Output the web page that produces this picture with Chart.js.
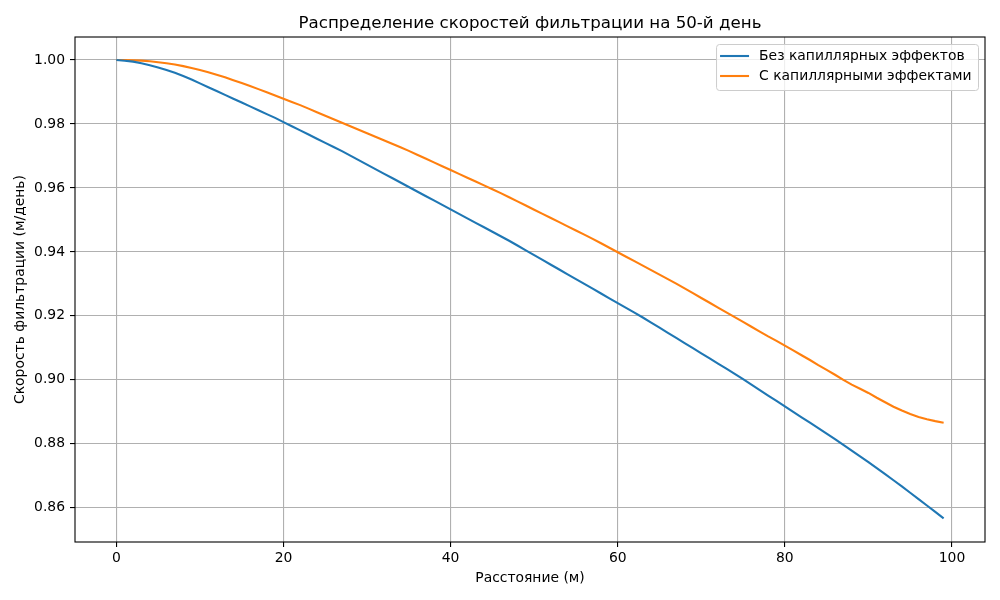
<!DOCTYPE html>
<html>
<head>
<meta charset="utf-8">
<script src="https://cdn.jsdelivr.net/npm/chart.js@4.4.1/dist/chart.umd.min.js"></script>
<style>
  html, body { margin: 0; padding: 0; background: #ffffff; }
  #wrap { width: 1000px; height: 600px; position: relative; }
</style>
</head>
<body>
<div id="wrap"><canvas id="c"></canvas></div>
<script>
const chartTitle = 'Распределение скоростей фильтрации на 50-й день';
const xAxisTitle = 'Расстояние (м)';
const yAxisTitle = 'Скорость фильтрации (м/день)';
const seriesLabels = ['Без капиллярных эффектов', 'С капиллярными эффектами'];
const seriesColors = ['#1f77b4', '#ff7f0e'];

const distance = [
  0,1,2,3,4,5,6,7,8,9,
  10,11,12,13,14,15,16,17,18,19,
  20,21,22,23,24,25,26,27,28,29,
  30,31,32,33,34,35,36,37,38,39,
  40,41,42,43,44,45,46,47,48,49,
  50,51,52,53,54,55,56,57,58,59,
  60,61,62,63,64,65,66,67,68,69,
  70,71,72,73,74,75,76,77,78,79,
  80,81,82,83,84,85,86,87,88,89,
  90,91,92,93,94,95,96,97,98,99
];

const velocityNoCap = [
  1.0000,0.9998,0.9995,0.9990,0.9984,0.9977,0.9969,0.9960,0.9950,0.9939,
  0.9927,0.9915,0.9903,0.9891,0.9879,0.9867,0.9855,0.9843,0.9831,0.9819,
  0.9806,0.9793,0.9780,0.9767,0.9754,0.9741,0.9728,0.9715,0.9701,0.9687,
  0.9673,0.9659,0.9645,0.9631,0.9617,0.9603,0.9589,0.9575,0.9561,0.9547,
  0.9533,0.9519,0.9505,0.9491,0.9477,0.9463,0.9449,0.9435,0.9420,0.9405,
  0.9390,0.9375,0.9360,0.9345,0.9330,0.9315,0.9300,0.9285,0.9270,0.9255,
  0.9240,0.9225,0.9210,0.9195,0.9179,0.9163,0.9147,0.9131,0.9115,0.9099,
  0.9083,0.9067,0.9051,0.9035,0.9019,0.9002,0.8985,0.8968,0.8951,0.8934,
  0.8917,0.8900,0.8883,0.8866,0.8849,0.8832,0.8815,0.8797,0.8779,0.8761,
  0.8743,0.8724,0.8705,0.8686,0.8667,0.8647,0.8627,0.8607,0.8587,0.8567
];

const velocityWithCap = [
  1.0000,1.0000,0.9999,0.9998,0.9996,0.9993,0.9990,0.9986,0.9981,0.9975,
  0.9969,0.9962,0.9954,0.9946,0.9937,0.9928,0.9919,0.9909,0.9899,0.9889,
  0.9879,0.9869,0.9859,0.9848,0.9837,0.9826,0.9815,0.9804,0.9793,0.9782,
  0.9771,0.9760,0.9749,0.9738,0.9727,0.9716,0.9704,0.9692,0.9680,0.9668,
  0.9656,0.9644,0.9632,0.9620,0.9608,0.9596,0.9584,0.9571,0.9558,0.9545,
  0.9532,0.9519,0.9506,0.9493,0.9480,0.9467,0.9454,0.9441,0.9427,0.9413,
  0.9399,0.9385,0.9371,0.9357,0.9343,0.9329,0.9315,0.9301,0.9286,0.9271,
  0.9256,0.9241,0.9226,0.9211,0.9196,0.9181,0.9166,0.9151,0.9136,0.9122,
  0.9107,0.9092,0.9077,0.9062,0.9046,0.9031,0.9016,0.9000,0.8985,0.8972,
  0.8959,0.8944,0.8930,0.8916,0.8904,0.8893,0.8884,0.8877,0.8871,0.8866
];

const xTicks = [0, 20, 40, 60, 80, 100];
const yTicks = [0.86, 0.88, 0.90, 0.92, 0.94, 0.96, 0.98, 1.00];

const FONT = "'DejaVu Sans', sans-serif";

function toPoints(xs, ys) { return xs.map((x, i) => ({ x: x, y: ys[i] })); }

const frameLegendPlugin = {
  id: 'frameLegend',
  afterDraw(chart) {
    const ctx = chart.ctx;
    const a = chart.chartArea;
    ctx.save();
    ctx.strokeStyle = '#000000';
    ctx.lineWidth = 1.1;
    ctx.strokeRect(a.left, a.top, a.right - a.left, a.bottom - a.top);
    ctx.font = '13.9px ' + FONT;
    const ds = chart.data.datasets;
    let maxW = 0;
    ds.forEach(d => { maxW = Math.max(maxW, ctx.measureText(d.label).width); });
    const boxW = 43 + maxW + 6.5;
    const boxH = 46;
    const right = a.right - 7;
    const top = a.top + 7;
    const left = right - boxW;
    ctx.beginPath();
    if (ctx.roundRect) ctx.roundRect(left + 0.5, top + 0.5, boxW, boxH, 3);
    else ctx.rect(left + 0.5, top + 0.5, boxW, boxH);
    ctx.fillStyle = 'rgba(255,255,255,0.8)';
    ctx.fill();
    ctx.strokeStyle = '#cccccc';
    ctx.lineWidth = 1;
    ctx.stroke();
    ds.forEach((d, i) => {
      const yy = top + 12 + i * 20;
      ctx.beginPath();
      ctx.strokeStyle = d.borderColor;
      ctx.lineWidth = 2.1;
      ctx.moveTo(left + 4, yy);
      ctx.lineTo(left + 33, yy);
      ctx.stroke();
      ctx.fillStyle = '#000000';
      ctx.textBaseline = 'middle';
      ctx.textAlign = 'left';
      ctx.fillText(d.label, left + 43, yy);
    });
    ctx.restore();
  }
};

new Chart(document.getElementById('c'), {
  type: 'line',
  data: {
    datasets: [
      {
        label: seriesLabels[0],
        data: toPoints(distance, velocityNoCap),
        borderColor: seriesColors[0],
        backgroundColor: seriesColors[0],
        borderWidth: 2.1,
        pointRadius: 0,
        tension: 0,
        fill: false
      },
      {
        label: seriesLabels[1],
        data: toPoints(distance, velocityWithCap),
        borderColor: seriesColors[1],
        backgroundColor: seriesColors[1],
        borderWidth: 2.1,
        pointRadius: 0,
        tension: 0,
        fill: false
      }
    ]
  },
  options: {
    responsive: true,
    maintainAspectRatio: false,
    animation: false,
    devicePixelRatio: 1,
    layout: { padding: { top: 0, right: 15, bottom: 0, left: 0 } },
    plugins: {
      legend: { display: false },
      tooltip: { enabled: false },
      title: {
        display: true,
        text: chartTitle,
        fullSize: false,
        color: '#000000',
        font: { family: FONT, size: 16.67, weight: 'normal', lineHeight: 1.2 },
        padding: { top: 14, bottom: 3 }
      }
    },
    scales: {
      x: {
        type: 'linear',
        min: -4.95,
        max: 103.95,
        afterBuildTicks: (scale) => { scale.ticks = xTicks.map(v => ({ value: v })); },
        afterFit: (scale) => { scale.height = 58; },
        grid: {
          display: true,
          color: '#b0b0b0',
          lineWidth: 1.1,
          drawTicks: true,
          tickLength: 5,
          tickColor: '#000000',
          tickWidth: 1.1
        },
        border: { display: false },
        ticks: {
          color: '#000000',
          font: { family: FONT, size: 13.9, lineHeight: 1.2 },
          padding: 3,
          maxRotation: 0,
          autoSkip: false,
          callback: (v) => String(v)
        },
        title: {
          display: true,
          text: xAxisTitle,
          color: '#000000',
          font: { family: FONT, size: 13.9, lineHeight: 1.2 },
          padding: { top: 0, bottom: 13.7 }
        }
      },
      y: {
        type: 'linear',
        min: 0.8493,
        max: 1.0072,
        afterBuildTicks: (scale) => { scale.ticks = yTicks.map(v => ({ value: v })); },
        afterFit: (scale) => { scale.width = 75; },
        grid: {
          display: true,
          color: '#b0b0b0',
          lineWidth: 1.1,
          drawTicks: true,
          tickLength: 5,
          tickColor: '#000000',
          tickWidth: 1.1
        },
        border: { display: false },
        ticks: {
          color: '#000000',
          font: { family: FONT, size: 13.9, lineHeight: 1.2 },
          padding: 5,
          autoSkip: false,
          callback: (v) => Number(v).toFixed(2)
        },
        title: {
          display: true,
          text: yAxisTitle,
          color: '#000000',
          font: { family: FONT, size: 13.9, lineHeight: 1.2 },
          padding: { top: 11.7, bottom: 0 }
        }
      }
    }
  },
  plugins: [frameLegendPlugin]
});
</script>
</body>
</html>
